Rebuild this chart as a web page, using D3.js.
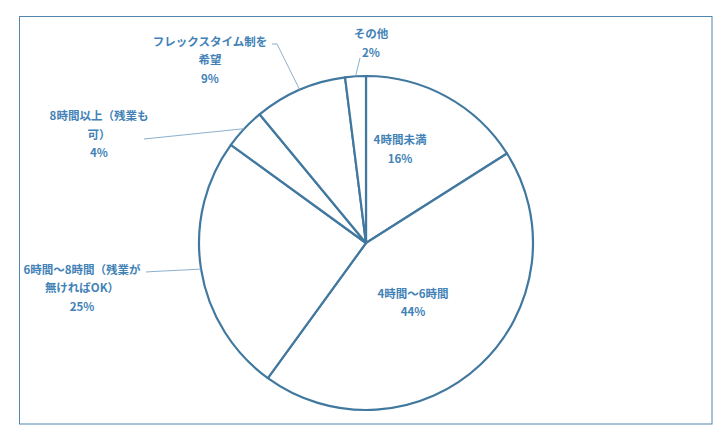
<!DOCTYPE html>
<html>
<head>
<meta charset="utf-8">
<script src="https://d3js.org/d3.v7.min.js"></script>
<style>
  body { margin: 0; background: #fff; }
  text { font-family: "Noto Sans CJK JP", sans-serif; font-size: 11.5px; font-weight: bold; fill: #4282b6; }
</style>
</head>
<body>
<svg id="chart"></svg>
<script>
// data
const categories = ["4時間未満", "4時間～6時間", "6時間～8時間（残業が無ければOK）", "8時間以上（残業も可）", "フレックスタイム制を希望", "その他"];
const values = [16, 44, 25, 4, 9, 2];
const percentLabels = ["16%", "44%", "25%", "4%", "9%", "2%"];

// layout for labels (wrapped lines, block centre, leader end)
const labelLines = [
  ["4時間未満"],
  ["4時間～6時間"],
  ["6時間～8時間（残業が", "無ければOK）"],
  ["8時間以上（残業も", "可）"],
  ["フレックスタイム制を", "希望"],
  ["その他"]
];
const labelPos = [[400, 139], [413, 292.5], [82, 268.5], [99, 115], [210, 40.7], [371, 33.3]];
const leaderEnd = [null, null, [[146, 272], [152, 271.6]], [[144, 139], [150, 138.4]], [[272, 44], [277, 44]], [[360, 58], [360, 58]]];

const width = 726, height = 443;
const svg = d3.select("#chart").attr("width", width).attr("height", height);

// chart frame
svg.append("rect")
   .attr("x", 19.5).attr("y", 16.5)
   .attr("width", 692.5).attr("height", 407.5)
   .attr("fill", "none")
   .attr("stroke", "#4f86b0")
   .attr("stroke-width", 1);

const cx = 366, cy = 243, radius = 167;
const stroke = "#41789f";

const pie = d3.pie().sort(null).value(d => d);
const arcs = pie(values);
const arcGen = d3.arc().innerRadius(0).outerRadius(radius);
const edgeArc = d3.arc().innerRadius(radius).outerRadius(radius);

const g = svg.append("g").attr("transform", `translate(${cx}, ${cy})`);

g.selectAll("path")
 .data(arcs)
 .join("path")
 .attr("d", arcGen)
 .attr("fill", "#fff")
 .attr("stroke", stroke)
 .attr("stroke-width", 2.2)
 .attr("stroke-linejoin", "round");

// leader lines
const line = d3.line();
arcs.forEach((a, i) => {
  if (!leaderEnd[i]) return;
  const c = edgeArc.centroid(a);
  const p0 = [c[0] + cx, c[1] + cy];
  const pts = [leaderEnd[i][0], leaderEnd[i][1], p0];
  svg.append("path")
     .attr("d", line(pts))
     .attr("fill", "none")
     .attr("stroke", "#7ea6c6")
     .attr("stroke-width", 0.9);
});

// labels
const lineH = 18.5;
categories.forEach((cat, i) => {
  const lines = labelLines[i].concat([percentLabels[i]]);
  const t = svg.append("text")
     .attr("text-anchor", "middle")
     .attr("x", labelPos[i][0])
     .attr("y", labelPos[i][1]);
  lines.forEach((s, j) => {
    t.append("tspan")
     .attr("x", labelPos[i][0])
     .attr("y", labelPos[i][1] + j * lineH)
     .attr("dominant-baseline", "central")
     .text(s);
  });
});
</script>
</body>
</html>
